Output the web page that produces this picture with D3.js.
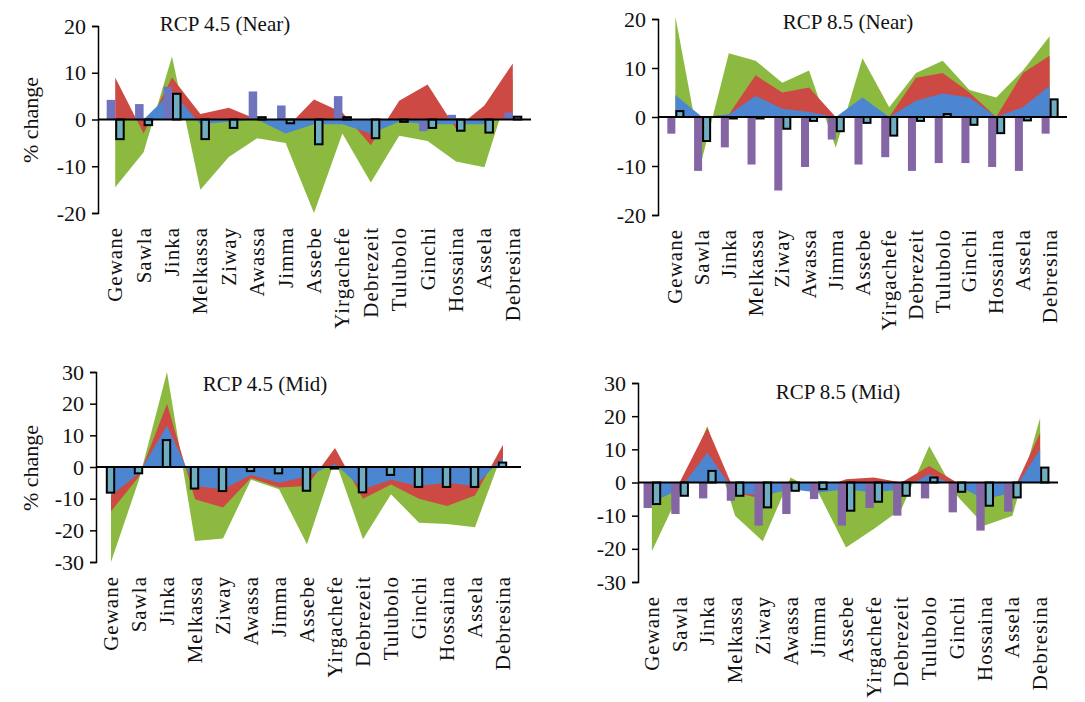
<!DOCTYPE html>
<html><head><meta charset="utf-8">
<script src="https://cdn.jsdelivr.net/npm/d3@7"></script>
<style>
body{margin:0;background:#fff;}
svg text{font-family:"Liberation Serif","Times New Roman",serif !important;fill:#111;}
</style></head>
<body><svg id="c" width="1085" height="702"></svg>
<script>
const stations = ["Gewane","Sawla","Jinka","Melkassa","Ziway","Awassa","Jimma","Assebe","Yirgachefe","Debrezeit","Tulubolo","Ginchi","Hossaina","Assela","Debresina"];

// RCP 4.5 (Near)
const p1Green  = [-14.5,-7,13.5,-15,-8,-4,-5,-20,-3,-13.5,-3.5,-4.6,-9,-10.2,9];
const p1Red    = [9,-3,9,1.2,2.5,0,-2,4.3,1.5,-5.5,4,7.5,-2,3,12];
const p1Blue   = [0,0,6,-1,-0.5,0,-3,-1,-1,-3,-0.5,-1,-1,-1,1];
const p1Purple = [4.2,3.3,7,0,0,6,3,0,5,0,0,-2.5,1,0,1.5];
const p1Teal   = [-4.2,-1.2,5.5,-4.2,-1.8,0.5,-0.8,-5.3,0.5,-4,-0.5,-1.8,-2.4,-2.8,0.6];

// RCP 8.5 (Near)
const p2Green  = [20.5,-8.5,13,11.5,7,9.5,-6.3,12,2,9,11.5,5.5,4,9.5,16.5];
const p2Red    = [0,0,0.5,8.5,5,6,0,0,0,8,9,5,0,9,12.5];
const p2Blue   = [4.5,0,0.5,4.3,1.7,1,0,4,0,3.3,4.8,4,0,2,6.4];
const p2Purple = [-3.4,-11,-6.2,-9.7,-15,-10.2,-4.6,-9.7,-8.2,-11,-9.4,-9.4,-10.2,-11,-3.4];
const p2Teal   = [1.2,-4.9,-0.3,-0.3,-2.4,-0.8,-2.9,-1.2,-3.8,-0.8,0.6,-1.6,-3.3,-0.7,3.6];

// RCP 4.5 (Mid)
const p3Green  = [-30,-4,30,-23.4,-22.6,-4,-7,-24.4,2.4,-22.8,-8.6,-17.6,-18,-19,5];
const p3Red    = [-14,-3,20,-10.2,-12.8,-3.5,-6.5,-6,6,-10,-5.5,-10,-12.3,-9,7];
const p3Blue   = [-9,-2,13,-6,-7,-2.5,-5,-3,1,-7,-4,-6,-5,-6,3];
const p3Teal   = [-8.1,-2,8.5,-6.8,-7.6,-1.3,-2,-7.5,-0.5,-8,-2.5,-6.3,-6.3,-6.3,1.4];

// RCP 8.5 (Mid)
const p4Green  = [-20.7,-3,17,-10,-17.7,1.5,-3,-19.6,-14,-8,11,-4,-13,-10,19.5];
const p4Red    = [-6,0,16.5,-3,-5,0,-2,1,1.5,0,5,0,-5,-3,15];
const p4Blue   = [-6,-2,9,-3,-4,-2,-3,-2,-3,-2,2.5,-1,-5,-3,10];
const p4Purple = [-7.7,-9.5,-4.8,-5.5,-13,-9.5,-5,-13,-7.7,-10,-4.8,-9,-14.5,-8.8,0];
const p4Teal   = [-6.5,-4,3.5,-4,-7.5,-2.5,-2,-8.5,-5.8,-4,1.5,-2.8,-7,-4.5,4.5];

const yTicks1 = [-20,-10,0,10,20];
const yTicks2 = [-30,-20,-10,0,10,20,30];

const panels = [
  {title:"RCP 4.5 (Near)", green:p1Green, red:p1Red, blue:p1Blue, purple:p1Purple, teal:p1Teal,
   ticks:yTicks1, xr:[101,527], ax:98, yr:[213,26], tx:225, ty:31, ylab:true, labY:120, purpleColor:"#6f74bf", centered:false},
  {title:"RCP 8.5 (Near)", green:p2Green, red:p2Red, blue:p2Blue, purple:p2Purple, teal:p2Teal,
   ticks:yTicks1, xr:[662,1063], ax:658, yr:[215,19], tx:848, ty:29, ylab:false, purpleColor:"#8466a5", centered:false},
  {title:"RCP 4.5 (Mid)", green:p3Green, red:p3Red, blue:p3Blue, purple:null, teal:p3Teal,
   ticks:yTicks2, xr:[97,517], ax:96, yr:[562,372], tx:265, ty:391, ylab:true, labY:468, purpleColor:"#6f74bf", centered:true},
  {title:"RCP 8.5 (Mid)", green:p4Green, red:p4Red, blue:p4Blue, purple:p4Purple, teal:p4Teal,
   ticks:yTicks2, xr:[638,1054], ax:638, yr:[582,383], tx:838, ty:399, ylab:false, purpleColor:"#8466a5", centered:false}
];

const svg = d3.select("#c");
const GREEN="#8cba40", RED="#cd4a44", BLUE="#4c86d0", TEAL="#6fadc0";

panels.forEach(p=>{
  const x = d3.scaleBand().domain(stations).range(p.xr);
  const y = d3.scaleLinear().domain(d3.extent(p.ticks)).range(p.yr);
  const g = svg.append("g");
  const cx = s => x(s) + x.bandwidth()/2;

  const area = vals => d3.area()
    .x((d,i)=>cx(stations[i]))
    .y0(y(0))
    .y1(d=>y(d))(vals);

  [[p.green,GREEN],[p.red,RED],[p.blue,BLUE]].forEach(([vals,col])=>{
    g.append("path").attr("d",area(vals)).attr("fill",col);
  });

  const bw = x.bandwidth()*0.3;
  if(p.purple){
    g.selectAll(".pb").data(p.purple).join("rect")
      .attr("x",(d,i)=>cx(stations[i])-bw)
      .attr("width",bw)
      .attr("y",d=>Math.min(y(d),y(0)))
      .attr("height",d=>Math.abs(y(d)-y(0)))
      .attr("fill",p.purpleColor);
  }
  const tOff = p.centered ? -bw/2 : 1;
  g.selectAll(".tb").data(p.teal).join("rect")
    .attr("x",(d,i)=>cx(stations[i])+tOff)
    .attr("width",bw-1)
    .attr("y",d=>Math.min(y(d),y(0)))
    .attr("height",d=>Math.abs(y(d)-y(0)))
    .attr("fill",TEAL).attr("stroke","#000").attr("stroke-width",2);

  g.append("line").attr("x1",p.ax).attr("x2",p.xr[1]+4)
    .attr("y1",y(0)).attr("y2",y(0)).attr("stroke","#000").attr("stroke-width",2);

  const ya = g.append("g").attr("transform",`translate(${p.ax},0)`)
    .call(d3.axisLeft(y).tickValues(p.ticks).tickSize(6).tickSizeOuter(6).tickPadding(6).tickFormat(d=>String(d)));
  ya.attr("font-family",null).attr("font-size",null);
  ya.select(".domain").attr("stroke","#000").attr("stroke-width",1.5);
  ya.selectAll(".tick line").attr("stroke","#000").attr("stroke-width",1.5);
  ya.selectAll(".tick text").attr("font-size",22).attr("fill","#111");

  const bottom = p.yr[0];
  g.selectAll(".xl").data(stations).join("text")
    .attr("transform",d=>`translate(${cx(d)},${bottom+14}) rotate(-90)`)
    .attr("text-anchor","end")
    .attr("dominant-baseline","central")
    .attr("font-size",21)
    .attr("letter-spacing","1px")
    .text(d=>d);

  g.append("text").attr("x",p.tx).attr("y",p.ty).attr("text-anchor","middle")
    .attr("font-size",21).text(p.title);

  if(p.ylab){
    g.append("text").attr("transform",`translate(30,${p.labY}) rotate(-90)`)
      .attr("text-anchor","middle").attr("dominant-baseline","central")
      .attr("font-size",22).text("% change");
  }
});
</script></body></html>
